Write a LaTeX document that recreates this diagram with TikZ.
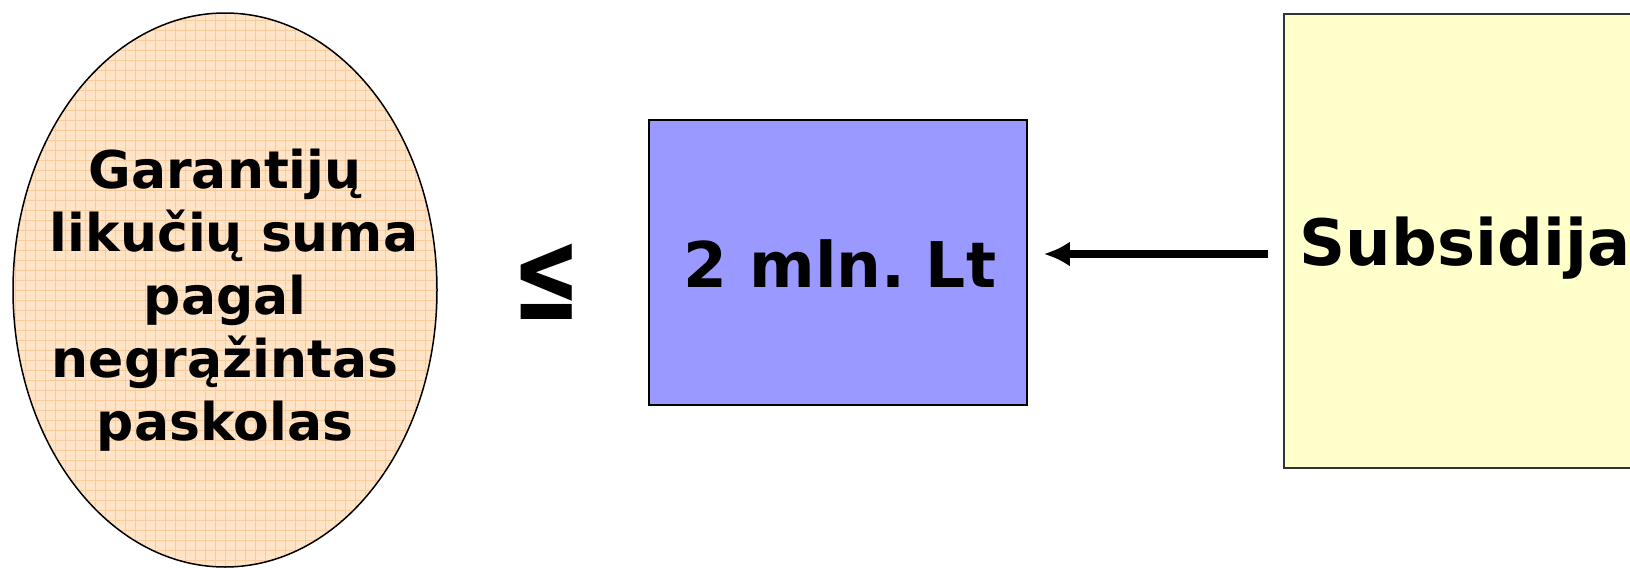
\documentclass[tikz,border=0pt]{standalone}
\usepackage{fontspec}
\setmainfont{DejaVu Sans}
\usetikzlibrary{shapes.geometric,arrows.meta}
\definecolor{peach}{HTML}{FFE4C8}
\definecolor{peachgrid}{HTML}{FBCB9C}
\definecolor{boxblue}{HTML}{9999FF}
\definecolor{boxyellow}{HTML}{FFFFCC}
\begin{document}
\begin{tikzpicture}[x=1pt,y=-1pt,
  elltext/.style={align=center, inner sep=0pt, font=\fontsize{52pt}{63pt}\selectfont\bfseries},
  bigtext/.style={inner sep=0pt, font=\fontsize{64pt}{78pt}\selectfont\bfseries},
  connector/.style={line width=7.5pt, -{Latex[length=26pt,width=25pt]}}
]
\useasboundingbox (0,0) rectangle (1630,570);
\clip (0,0) rectangle (1630,570);
\fill[white] (0,0) rectangle (1630,570);

\node[ellipse, draw, line width=1.5pt, fill=peach, minimum width=424pt, minimum height=554pt, inner sep=0pt,
  path picture={\draw[peachgrid, line width=0.8pt] (path picture bounding box.south west) grid[step=10pt] (path picture bounding box.north east);}]
  (ell) at (225,290) {};
\node[elltext] (elltxt) at (225,300) {Garantijų\\\hspace*{.35em}likučių suma\\pagal\hspace*{.35em}\\negrąžintas\hspace*{.35em}\\paskolas};

\node[inner sep=0pt, font=\fontsize{80pt}{80pt}\selectfont\bfseries] (leq) at (546.5,282) {\scalebox{1.02}[1.62]{≤}};

\node[draw, line width=1.5pt, fill=boxblue, minimum width=378pt, minimum height=285pt, inner sep=0pt] (blue) at (838,262.5) {};
\node[bigtext, font=\fontsize{63pt}{78pt}\selectfont\bfseries] (bluetxt) at (840,264) {2 mln.\hspace{0.32em}Lt};

\node[draw=black!80, line width=1.2pt, fill=boxyellow, minimum width=362pt, minimum height=454pt, inner sep=0pt] (yel) at (1465,241) {};
\node[bigtext] (yeltxt) at (1465,248) {Subsidija};

\coordinate (astart) at ([xshift=-15pt,yshift=-13pt]yel.west);
\draw[connector, shorten >=16pt] (astart) -- (blue.east |- astart);
\end{tikzpicture}
\end{document}
